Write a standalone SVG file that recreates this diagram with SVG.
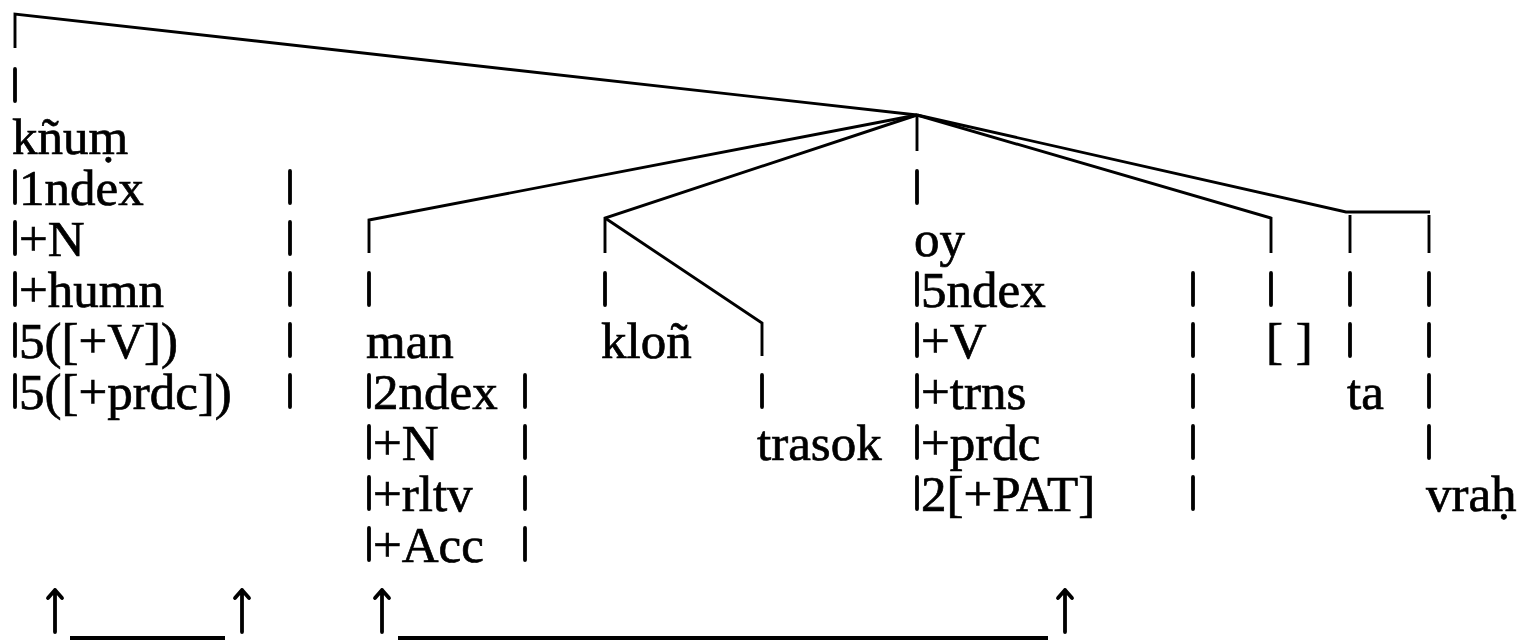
<svg xmlns="http://www.w3.org/2000/svg" width="1535" height="643" viewBox="0 0 1535 643">
<style>
.t{font-family:"Liberation Serif","DejaVu Serif",serif;font-size:51px;fill:#000;stroke:#000;stroke-width:0.7}
.ln{fill:none;stroke:#000;stroke-width:2.9;stroke-linejoin:miter}
.bar{fill:none;stroke:#000;stroke-width:3.8;stroke-linecap:round}
.ul{fill:none;stroke:#000;stroke-width:3.8}
.ar{fill:none;stroke:#000;stroke-width:3.8;stroke-linecap:round;stroke-linejoin:round}
</style>
<rect width="1535" height="643" fill="#fff"/>
<g id="connectors">
<path class="ln" d="M15,48 V14 L917,115"/>
<path class="ln" d="M369,253 V220 L917,115"/>
<path class="ln" d="M605,253 V218 L917,115"/>
<path class="ln" d="M605,218 L762,323 V356"/>
<path class="ln" d="M917,115 V151"/>
<path class="ln" d="M917,115 L1271,218 V253"/>
<path class="ln" d="M917,115 L1346,212 H1430"/>
<path class="ln" d="M1350,215 V253"/>
<path class="ln" d="M1429,215 V253"/>
<path class="bar" d="M15,69 V101 M15,171 V203 M15,222 V254 M15,273 V305 M15,324 V356 M15,375 V407"/>
<path class="bar" d="M290,171 V203 M290,222 V254 M290,273 V305 M290,324 V356 M290,375 V407"/>
<path class="bar" d="M369,273 V305 M369,375 V407 M369,426 V458 M369,477 V509 M369,528 V560"/>
<path class="bar" d="M525,375 V407 M525,426 V458 M525,477 V509 M525,528 V560"/>
<path class="bar" d="M605,273 V305"/>
<path class="bar" d="M762,375 V407"/>
<path class="bar" d="M917,171 V203 M917,273 V305 M917,324 V356 M917,375 V407 M917,426 V458 M917,477 V509"/>
<path class="bar" d="M1193,273 V305 M1193,324 V356 M1193,375 V407 M1193,426 V458 M1193,477 V509"/>
<path class="bar" d="M1271,273 V305"/>
<path class="bar" d="M1350,273 V305 M1350,324 V356"/>
<path class="bar" d="M1429,273 V305 M1429,324 V356 M1429,375 V407 M1429,426 V458"/>
<path class="ar" d="M55,632 V590 M48,598 L55,590 L62,598"/>
<path class="ar" d="M242,632 V590 M235,598 L242,590 L249,598"/>
<path class="ar" d="M382,632 V590 M375,598 L382,590 L389,598"/>
<path class="ar" d="M1065,632 V590 M1058,598 L1065,590 L1072,598"/>
<path class="ul" d="M70,638 H225 M398,638 H1048"/>
</g>
<g id="node-knum">
<text class="t" x="12" y="154">kñuṃ</text>
<text class="t" x="19" y="205">1ndex</text>
<text class="t" x="19" y="256">+N</text>
<text class="t" x="19" y="307">+humn</text>
<text class="t" x="19" y="358">5([+V])</text>
<text class="t" x="19" y="409">5([+prdc])</text>
</g>
<g id="node-man">
<text class="t" x="366" y="358">man</text>
<text class="t" x="373" y="409">2ndex</text>
<text class="t" x="373" y="460">+N</text>
<text class="t" x="373" y="511">+rltv</text>
<text class="t" x="373" y="562">+Acc</text>
</g>
<g id="node-klon"><text class="t" x="601" y="358">kloñ</text></g>
<g id="node-trasok"><text class="t" x="757" y="460">trasok</text></g>
<g id="node-oy">
<text class="t" x="914" y="256">oy</text>
<text class="t" x="921" y="307">5ndex</text>
<text class="t" x="921" y="358">+V</text>
<text class="t" x="921" y="409">+trns</text>
<text class="t" x="921" y="460">+prdc</text>
<text class="t" x="921" y="511">2[+PAT]</text>
</g>
<g id="node-empty"><text class="t" x="1266" y="358">[ ]</text></g>
<g id="node-ta"><text class="t" x="1347" y="409">ta</text></g>
<g id="node-vrah"><text class="t" x="1426" y="511">vraḥ</text></g>
</svg>
